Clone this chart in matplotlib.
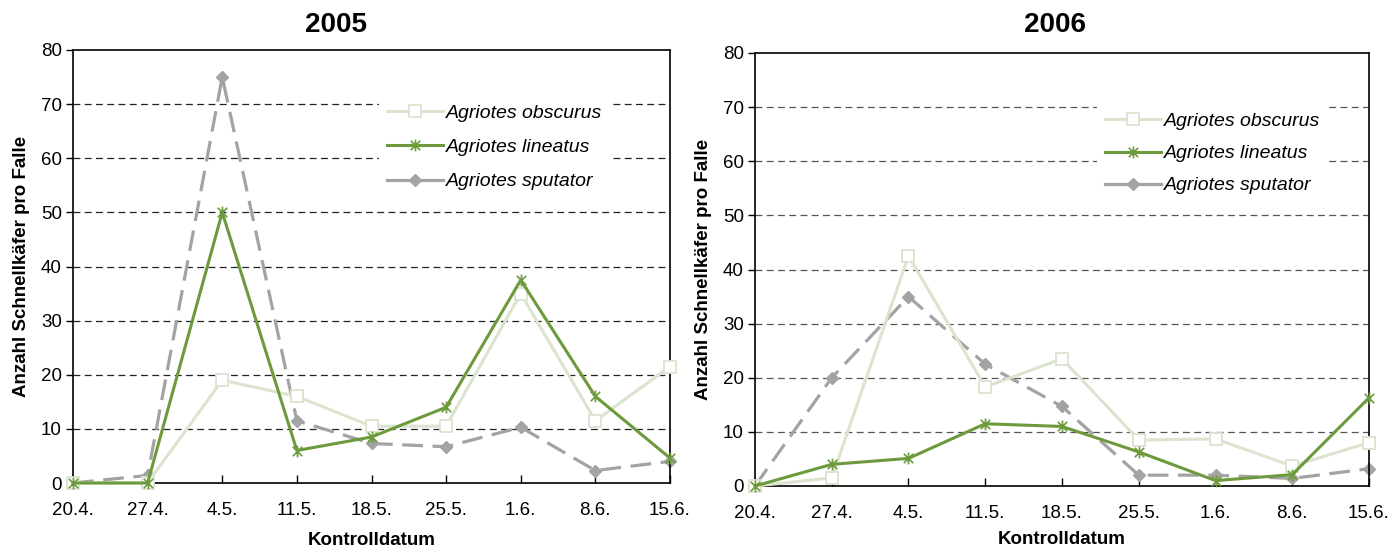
import matplotlib
matplotlib.use("Agg")
import matplotlib.pyplot as plt
from matplotlib.path import Path

plt.rcParams['font.family'] = ['Liberation Sans', 'DejaVu Sans']

dates = ["20.4.", "27.4.", "4.5.", "11.5.", "18.5.", "25.5.", "1.6.", "8.6.", "15.6."]
series_names = ["Agriotes obscurus", "Agriotes lineatus", "Agriotes sputator"]

obscurus_2005 = [0, 0, 19, 16, 10.5, 10.5, 35, 11.5, 21.5]
lineatus_2005 = [0, 0, 50, 6, 8.5, 14, 37.5, 16, 4.6]
sputator_2005 = [0, 1.4, 75, 11.5, 7.3, 6.7, 10.3, 2.3, 4]

obscurus_2006 = [0, 1.5, 42.5, 18.3, 23.5, 8.5, 8.7, 3.7, 8]
lineatus_2006 = [0, 4, 5.1, 11.5, 11, 6.3, 1, 2.1, 16.3]
sputator_2006 = [0, 20, 35, 22.5, 14.7, 2, 2, 1.4, 3.2]

years = ["2005", "2006"]
yticks = [0, 10, 20, 30, 40, 50, 60, 70, 80]

c_obs = "#dbe4cf"
c_lin = "#6c9a3c"
c_spu = "#a3a3a3"

star = Path([(-1, -1), (1, 1), (-1, 1), (1, -1), (0, -1.25), (0, 1.25)],
            [Path.MOVETO, Path.LINETO, Path.MOVETO, Path.LINETO, Path.MOVETO, Path.LINETO])

W, H = 1399, 548
fig = plt.figure(figsize=(13.99, 5.48), dpi=100)
ax1 = fig.add_axes([73/W, (H-483)/H, 597/W, 433/H])
ax2 = fig.add_axes([755/W, (H-486)/H, 614/W, 433/H])

data = [(obscurus_2005, lineatus_2005, sputator_2005),
        (obscurus_2006, lineatus_2006, sputator_2006)]
legend_anchor = [((369 - 73) / 597, (483 - 87) / 433), ((1087 - 755) / 614, (486 - 95) / 433)]
legend_spacing = [0.85, 0.75]
title_x = [336, 1055]
grid_colors = ["#222222", "#555555"]
xlabelpads = [9, 6.5]

for i, (ax, (obs, lin, spu)) in enumerate(zip([ax1, ax2], data)):
    x = list(range(len(dates)))
    for y in yticks[1:-1]:
        ax.axhline(y, color=grid_colors[i], lw=0.9, ls=(0, (5.5, 3.5)), zorder=0)
    ax.plot(x, obs, color=c_obs, lw=2.2, marker="s", ms=8, mfc="white",
            mec=c_obs, mew=1.3, zorder=3, clip_on=False)
    ax.plot(x, lin, color=c_lin, lw=2.2, marker=star, ms=8.5, mfc="none",
            mec=c_lin, mew=1.2, zorder=4, clip_on=False)
    ax.plot(x, spu, color=c_spu, lw=2.3, ls=(0, (6.5, 3)), marker="D", ms=6.5,
            mfc=c_spu, mec=c_spu, zorder=2, clip_on=False)
    ax.set_xlim(0, 8)
    ax.set_ylim(0, 80)
    ax.set_yticks(yticks)
    ax.set_xticks(x)
    ax.set_xticklabels(dates)
    ax.tick_params(axis="x", direction="in", length=6, labelsize=13.5, pad=14, width=1)
    ax.tick_params(axis="y", direction="out", length=5, labelsize=13.5, pad=3, width=1)
    for s in ax.spines.values():
        s.set_color("black")
        s.set_linewidth(1.2)
    fig.text(title_x[i] / W, 1 - 25 / H, years[i], fontsize=20, fontweight="bold",
             ha="center", va="center")
    ax.set_xlabel("Kontrolldatum", fontsize=13.5, fontweight="bold", labelpad=xlabelpads[i])
    ax.set_ylabel("Anzahl Schnellkäfer pro Falle", fontsize=13.5, fontweight="bold", labelpad=8)
    h1, = ax.plot([], [], color=c_obs, lw=2.2, marker="s", ms=8, mfc="white", mec=c_obs, mew=1.3)
    h2, = ax.plot([], [], color=c_lin, lw=2.2, marker=star, ms=8.5, mfc="none", mec=c_lin, mew=1.2)
    h3, = ax.plot([], [], color=c_spu, lw=2.3, marker="D", ms=6.5, mfc=c_spu, mec=c_spu)
    leg = ax.legend([h1, h2, h3], series_names, loc="upper left",
                    bbox_to_anchor=legend_anchor[i], frameon=True, facecolor="white",
                    edgecolor="none", framealpha=1, fancybox=False,
                    prop={"style": "italic", "size": 14}, labelspacing=legend_spacing[i],
                    handlelength=2.9, handletextpad=0.15, borderpad=0.4)
    leg.set_zorder(5)

fig.savefig("out.png", dpi=100)
